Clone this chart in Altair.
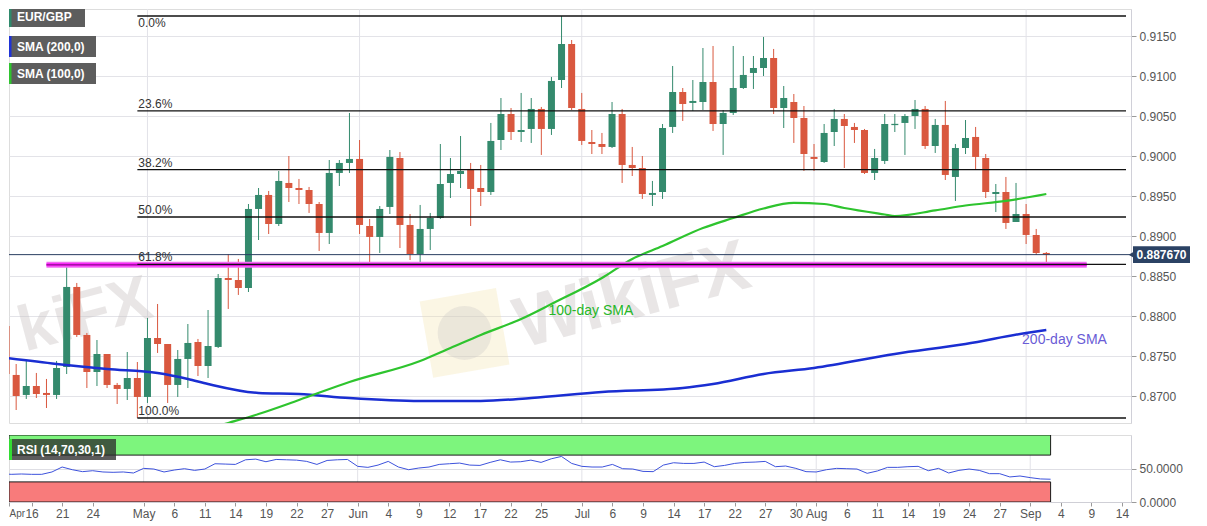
import altair as alt
import pandas as pd
import numpy as np

FONT = "Liberation Sans, Arial, sans-serif"

# ---------------- data (EUR/GBP daily, 2020-04-13 .. 2020-09-03, weekday bars) ----------------
bar_index = list(range(104))
opens = [0.87875, 0.87263, 0.87013, 0.87125, 0.87038, 0.87013, 0.87363, 0.88363, 0.87763, 0.873,
         0.87525, 0.87138, 0.87088, 0.87225, 0.86988, 0.87725, 0.8765, 0.87138, 0.87463, 0.87675,
         0.87375, 0.87613, 0.88475, 0.8845, 0.8835, 0.89338, 0.89513, 0.8915, 0.89663, 0.896,
         0.89575, 0.894, 0.89038, 0.89788, 0.89913, 0.89963, 0.89125, 0.88988, 0.89363, 0.89975,
         0.89138, 0.88775, 0.89088, 0.89225, 0.89663, 0.89775, 0.89838, 0.896, 0.8955, 0.902,
         0.90525, 0.903, 0.90338, 0.90588, 0.90338, 0.9095, 0.914, 0.90588, 0.90175, 0.9015,
         0.90113, 0.90525, 0.89888, 0.8985, 0.89513, 0.8955, 0.90363, 0.908, 0.90663, 0.90675,
         0.90925, 0.904, 0.90538, 0.9085, 0.91038, 0.911, 0.91225, 0.906, 0.90675, 0.90475,
         0.89988, 0.89925, 0.903, 0.90463, 0.90363, 0.90325, 0.89788, 0.89938, 0.90388, 0.90413,
         0.905, 0.90588, 0.90125, 0.90388, 0.89738, 0.901, 0.90238, 0.89975, 0.89525, 0.8955,
         0.89175, 0.89275, 0.89013, 0.88788]
closes = [0.87275, 0.87, 0.87125, 0.87025, 0.87013, 0.8735, 0.88363, 0.87763, 0.873, 0.87525,
          0.87138, 0.87088, 0.87225, 0.86988, 0.87725, 0.8765, 0.87138, 0.87463, 0.87663, 0.87375,
          0.87625, 0.88475, 0.8845, 0.8835, 0.89338, 0.89513, 0.8915, 0.89688, 0.896, 0.89575,
          0.894, 0.89038, 0.89788, 0.89913, 0.89963, 0.89138, 0.88988, 0.89338, 0.89988, 0.89138,
          0.88775, 0.89088, 0.89225, 0.8965, 0.89775, 0.89813, 0.89588, 0.8955, 0.90188, 0.90525,
          0.903, 0.90325, 0.90588, 0.90338, 0.90938, 0.914, 0.906, 0.90188, 0.9015, 0.90113,
          0.90525, 0.89888, 0.8985, 0.89525, 0.89538, 0.9035, 0.908, 0.9065, 0.90688, 0.90925,
          0.904, 0.90538, 0.9085, 0.91013, 0.911, 0.91225, 0.906, 0.90725, 0.90475, 0.90025,
          0.89963, 0.90288, 0.90463, 0.90375, 0.90325, 0.89788, 0.89975, 0.904, 0.904, 0.905,
          0.90588, 0.90125, 0.90388, 0.89763, 0.901, 0.90225, 0.89988, 0.8955, 0.8955, 0.89163,
          0.89275, 0.89013, 0.88788, 0.88767]
highs = [0.87913, 0.874, 0.8745, 0.87288, 0.87213, 0.87438, 0.88625, 0.88413, 0.87788, 0.877,
         0.87525, 0.87163, 0.8755, 0.87425, 0.87975, 0.8815, 0.8765, 0.87575, 0.879, 0.87713,
         0.88075, 0.88525, 0.88775, 0.88713, 0.894, 0.896, 0.89563, 0.89813, 0.9, 0.89713,
         0.89613, 0.89425, 0.8995, 0.8995, 0.90538, 0.902, 0.89213, 0.89375, 0.90075, 0.9005,
         0.89275, 0.89388, 0.89288, 0.9015, 0.89975, 0.9025, 0.89913, 0.89888, 0.90413, 0.90725,
         0.906, 0.90788, 0.90725, 0.90613, 0.90988, 0.9175, 0.9145, 0.90788, 0.90325, 0.90288,
         0.90675, 0.90588, 0.90113, 0.9, 0.89688, 0.904, 0.91125, 0.9085, 0.9095, 0.9135,
         0.91375, 0.90575, 0.91375, 0.9125, 0.9125, 0.91488, 0.91338, 0.90875, 0.90775, 0.90625,
         0.9015, 0.904, 0.90588, 0.90525, 0.90413, 0.90338, 0.90088, 0.90525, 0.90525, 0.90525,
         0.907, 0.90625, 0.90463, 0.90688, 0.9015, 0.9045, 0.90363, 0.90025, 0.8965, 0.89738,
         0.89663, 0.894, 0.89088, 0.888]
lows = [0.87238, 0.86825, 0.86963, 0.86975, 0.8685, 0.86963, 0.87275, 0.87738, 0.871, 0.87125,
        0.871, 0.869, 0.8695, 0.86725, 0.86913, 0.87538, 0.86913, 0.86988, 0.871, 0.8725,
        0.87225, 0.876, 0.88088, 0.88263, 0.883, 0.8895, 0.89025, 0.89125, 0.89425, 0.894,
        0.89288, 0.88813, 0.889, 0.89625, 0.89788, 0.89025, 0.88663, 0.88788, 0.89275, 0.8885,
        0.887, 0.88663, 0.88825, 0.89213, 0.89475, 0.896, 0.89125, 0.89375, 0.89513, 0.90075,
        0.902, 0.90175, 0.90163, 0.90013, 0.90263, 0.9085, 0.90575, 0.90138, 0.90025, 0.90025,
        0.901, 0.89663, 0.8975, 0.89463, 0.89375, 0.89463, 0.90288, 0.90438, 0.90563, 0.90575,
        0.90313, 0.90013, 0.90513, 0.90838, 0.90838, 0.91, 0.90525, 0.9035, 0.90163, 0.89813,
        0.89813, 0.89913, 0.90125, 0.8985, 0.90163, 0.89775, 0.897, 0.899, 0.903, 0.90013,
        0.90338, 0.90088, 0.90038, 0.897, 0.89438, 0.90025, 0.89825, 0.89475, 0.893, 0.89088,
        0.89175, 0.889, 0.88763, 0.88675]
rsi_values = [42.3, 41.3, 41.8, 41.3, 41.3, 44.8, 52.2, 48.2, 45.3, 46.7,
              44.8, 44.3, 44.8, 43.3, 50.2, 49.2, 44.8, 47.7, 49.7, 47.2,
              49.2, 57.1, 56.6, 56.1, 63.0, 64.0, 60.1, 63.5, 63.0, 62.5,
              60.6, 56.1, 62.0, 63.0, 63.5, 53.2, 51.7, 55.1, 60.6, 52.2,
              48.2, 50.7, 52.2, 56.1, 57.1, 58.1, 55.1, 54.6, 59.1, 63.0,
              59.6, 60.1, 62.5, 59.1, 64.5, 68.0, 57.6, 53.2, 52.2, 52.2,
              56.1, 49.7, 49.2, 45.7, 45.3, 55.1, 58.6, 57.6, 57.6, 59.6,
              52.7, 54.6, 57.6, 59.1, 59.6, 60.6, 52.7, 53.7, 50.2, 45.3,
              44.8, 48.2, 50.2, 49.7, 49.2, 42.8, 46.3, 51.7, 51.7, 52.7,
              53.2, 46.7, 50.2, 43.3, 47.2, 49.2, 47.2, 42.3, 42.3, 37.4,
              38.8, 36.4, 34.4, 34.0]

sma200_index = [0, 5, 10, 15, 18, 20, 25, 29, 34, 41, 47, 52, 59, 67, 70, 75, 80, 88, 95, 101, 103]
sma200_values = [0.87475, 0.874, 0.87338, 0.87288, 0.87213, 0.8715, 0.87038, 0.87025, 0.86975, 0.86938,
                 0.86938, 0.86975, 0.8705, 0.871, 0.8715, 0.87275, 0.8735, 0.87525, 0.8765, 0.87788, 0.87825]
sma100_index = [20, 22, 25, 29, 34, 41, 44, 47, 51, 54, 59, 62, 65, 69, 72, 75, 78, 81, 83, 87, 88, 92, 95, 99, 103]
sma100_values = [0.8659, 0.86663, 0.86775, 0.8695, 0.87175, 0.87438, 0.876, 0.87763, 0.87963, 0.8815,
                 0.88475, 0.88713, 0.88875, 0.891, 0.89225, 0.89344, 0.89413, 0.894, 0.8935, 0.89269,
                 0.8925, 0.8932, 0.89381, 0.89438, 0.89525]

swing_high = 0.9175
swing_low = 0.86725
fib_start_index = 13
fib_pcts = [0.0, 23.6, 38.2, 50.0, 61.8, 100.0]
support_level = 0.8864
support_start, support_end = 4, 107
current_price = 0.88767
current_label = "0.887670"

month_index = [14, 35, 57, 80, 101]
tick_values = [0.785, 3, 6, 9, 14, 17, 20, 23, 26, 29, 32, 35, 38, 41, 44, 47, 50, 53, 57, 60, 63, 66,
               69, 72, 75, 78, 80, 83, 86, 89, 92, 95, 98, 101, 104, 107, 110]
tick_labels = ["Apr", "16", "21", "24", "May", "6", "11", "14", "19", "22", "27", "Jun", "4", "9", "12",
               "17", "22", "25", "Jul", "6", "9", "14", "17", "22", "27", "30", "Aug", "6", "11", "14",
               "19", "24", "27", "Sep", "4", "9", "14"]
price_ticks = [0.870, 0.875, 0.880, 0.885, 0.890, 0.895, 0.900, 0.905, 0.910, 0.915]

legend_names = ["EUR/GBP", "SMA (200,0)", "SMA (100,0)"]
legend_accents = ["#2f8a6c", "#1f33d6", "#2fc42f"]

# watermark texts (bar index, price, text, alignment, size)
wm_text_i = [62.0, 14.3]
wm_text_v = [0.8825, 0.8822]
wm_text_t = ["WikiFX", "kiFX"]
wm_text_a = ["center", "right"]
wm_text_s = [72, 64]

GREEN = "#348a6d"
RED = "#d9583f"

# ---------------- frames ----------------
XMIN, XMAX = 0.785, 110.89
xs = alt.Scale(domain=[XMIN, XMAX], nice=False, zero=False)
ys = alt.Scale(domain=[0.866625, 0.918375], nice=False, zero=False)

candles = pd.DataFrame({"i": bar_index, "open": opens, "high": highs, "low": lows, "close": closes})
candles["dir"] = np.where(candles["close"] >= candles["open"], "up", "down")
top = candles[["open", "close"]].max(axis=1)
bot = candles[["open", "close"]].min(axis=1)
mid = (top + bot) / 2
small = (top - bot) < 0.00016
candles["btop"] = np.where(small, mid + 0.00008, top)
candles["bbot"] = np.where(small, mid - 0.00008, bot)

col = alt.Color("dir:N", scale=alt.Scale(domain=["up", "down"], range=[GREEN, RED]), legend=None)

main_yaxis = alt.Axis(orient="right", values=price_ticks, format=".4f", grid=True, gridColor="#e3e3e8",
                      tickSize=5, tickColor="#9a9a9a", domainColor="#d0d0d8", labelColor="#555",
                      labelFontSize=12, labelPadding=3, labelFont=FONT)


def X(field):
    return alt.X(field, scale=xs, axis=None, title=None)


def Y(field):
    return alt.Y(field, scale=ys, axis=main_yaxis, title=None)


vgrid = alt.Chart(pd.DataFrame({"i": month_index})).mark_rule(color="#e2e2e8", strokeWidth=1).encode(x=X("i:Q"))

wm_layers = []
for wi, wv, wt, wa, wsz in zip(wm_text_i, wm_text_v, wm_text_t, wm_text_a, wm_text_s):
    wm_layers.append(alt.Chart(pd.DataFrame({"i": [wi], "v": [wv], "t": [wt]})).mark_text(
        fontSize=wsz, fontWeight="bold", angle=345, color="#cbc6c6", opacity=0.42, align=wa,
        clip=True, font=FONT).encode(x=X("i:Q"), y=Y("v:Q"), text="t:N"))
wm_logo = alt.Chart(pd.DataFrame({"i": [45.4], "v": [0.87788]})).mark_point(
    shape="square", filled=True, size=6000, angle=350, color="#f3e2a4", opacity=0.3, clip=True).encode(
    x=X("i:Q"), y=Y("v:Q"))
wm_logo2 = alt.Chart(pd.DataFrame({"i": [45.4], "v": [0.87788]})).mark_point(
    shape="circle", filled=True, size=2900, color="#c8c2c2", opacity=0.3, clip=True).encode(
    x=X("i:Q"), y=Y("v:Q"))

wicks = alt.Chart(candles).mark_rule(strokeWidth=1, clip=True).encode(x=X("i:Q"), y=Y("low:Q"), y2="high:Q", color=col)
bodies = alt.Chart(candles).mark_bar(size=7, clip=True).encode(x=X("i:Q"), y=Y("bbot:Q"), y2="btop:Q", color=col)

sma200 = alt.Chart(pd.DataFrame({"i": sma200_index, "v": sma200_values})).mark_line(
    color="#1a2ed2", strokeWidth=2.5, clip=True, interpolate="monotone").encode(x=X("i:Q"), y=Y("v:Q"))
sma100 = alt.Chart(pd.DataFrame({"i": sma100_index, "v": sma100_values})).mark_line(
    color="#2ec42e", strokeWidth=2.2, clip=True, interpolate="monotone").encode(x=X("i:Q"), y=Y("v:Q"))

fib_df = pd.DataFrame({"pct": fib_pcts})
fib_df["level"] = swing_high - fib_df["pct"] / 100 * (swing_high - swing_low)
fib_df["label"] = fib_df["pct"].map(lambda p: f"{p:.1f}%")
fib_df["start"] = fib_start_index
fib_df["end"] = XMAX
fib_rules = alt.Chart(fib_df).mark_rule(color="#111", strokeWidth=1.3).encode(x=X("start:Q"), x2="end:Q", y=Y("level:Q"))
# labels sit just above their line; the top one (0.0%) has no room above and sits just below it
fib_text_above = alt.Chart(fib_df[fib_df["pct"] > 0]).mark_text(
    align="left", baseline="bottom", dx=1, dy=0, fontSize=12, color="#333", font=FONT).encode(
    x=X("start:Q"), y=Y("level:Q"), text="label:N")
fib_text_top = alt.Chart(fib_df[fib_df["pct"] == 0]).mark_text(
    align="left", baseline="top", dx=1, dy=2, fontSize=12, color="#333", font=FONT).encode(
    x=X("start:Q"), y=Y("level:Q"), text="label:N")

sup_df = pd.DataFrame({"start": [support_start], "end": [support_end], "level": [support_level]})
sup_outer = alt.Chart(sup_df).mark_rule(color="#f070f0", strokeWidth=6).encode(x=X("start:Q"), x2="end:Q", y=Y("level:Q"))
sup_inner = alt.Chart(sup_df).mark_rule(color="#ff10ff", strokeWidth=3).encode(x=X("start:Q"), x2="end:Q", y=Y("level:Q"))
sup_core = alt.Chart(sup_df).mark_rule(color="#7a1a7a", strokeWidth=1).encode(x=X("start:Q"), x2="end:Q", y=Y("level:Q"))

cur_df = pd.DataFrame({"price": [current_price], "label": [current_label]})
cur_line = alt.Chart(cur_df).mark_rule(color="#2a3e60", strokeWidth=1).encode(y=Y("price:Q"))
tag_box = alt.Chart(cur_df).transform_calculate(t="datum.price + 0.00106", b="datum.price - 0.00106").mark_rect(
    color="#2b4264").encode(x=alt.value(1124), x2=alt.value(1181), y=Y("b:Q"), y2="t:Q")
tag_arrow = alt.Chart(cur_df).mark_point(shape="triangle-left", filled=True, size=30, color="#2b4264", opacity=1).encode(
    x=alt.value(1122), y=Y("price:Q"))
tag_text = alt.Chart(cur_df).mark_text(color="white", fontWeight="bold", fontSize=12, font=FONT).encode(
    x=alt.value(1152.5), y=Y("price:Q"), text="label:N")

sma_lab_df = pd.DataFrame({"i": [57.9, 104.8], "v": [0.88063, 0.877], "t": ["100-day SMA", "200-day SMA"],
                           "c": ["#26b626", "#6a5cd6"]})
sma_labels = alt.Chart(sma_lab_df).mark_text(fontSize=14, font=FONT).encode(
    x=X("i:Q"), y=Y("v:Q"), text="t:N", color=alt.Color("c:N", scale=None))

legend_layers = []
one = pd.DataFrame({"k": [0]})
for n, (name, acc) in enumerate(zip(legend_names, legend_accents)):
    y0 = 27 * n
    y1 = y0 + (18 if n == 0 else 21)
    yc = (y1 - 10) if n == 0 else (y0 + 11)
    w = 76 if n == 0 else 87
    legend_layers.append(alt.Chart(one).mark_rect(color="#5d5d5d").encode(
        x=alt.value(0), x2=alt.value(w), y=alt.value(y0), y2=alt.value(y1)))
    legend_layers.append(alt.Chart(one).mark_rect(color=acc).encode(
        x=alt.value(0), x2=alt.value(2.5), y=alt.value(y0), y2=alt.value(y1)))
    legend_layers.append(alt.Chart(one).mark_text(text=name, color="white", fontWeight="bold", fontSize=12,
                                                   align="left", baseline="middle", font=FONT).encode(
        x=alt.value(8), y=alt.value(yc)))

main = alt.layer(
    vgrid, wm_logo, wm_logo2, *wm_layers, wicks, bodies, sma200, sma100, cur_line, sup_outer, sup_inner,
    sup_core, fib_rules, fib_text_above, fib_text_top, sma_labels, tag_arrow, tag_box, tag_text, *legend_layers
).properties(width=1122, height=414)

# ---------------- RSI panel ----------------
val_js = "[" + ",".join(str(v) for v in tick_values) + "]"
lab_js = "[" + ",".join("'" + l + "'" for l in tick_labels) + "]"
rsi_xaxis = alt.Axis(values=tick_values, labelExpr=f"{lab_js}[indexof({val_js}, datum.value)]", grid=False,
                     tickSize=4, tickColor="#9a9a9a", domainColor="#cfcfd6", labelColor="#555",
                     labelFontSize={"condition": {"test": "datum.value < 1", "value": 10}, "value": 12},
                     labelOverlap=False, labelFlush=True, labelPadding=2, labelFont=FONT)
ry = alt.Scale(domain=[0, 100], nice=False, zero=False)
rsi_yaxis = alt.Axis(orient="right", values=[0, 50], format=".4f", grid=True, gridColor="#dedee4", tickSize=5,
                     tickColor="#9a9a9a", domainColor="#d0d0d8", labelColor="#555", labelFontSize=12, labelPadding=3,
                     labelFont=FONT)


def RX(field):
    return alt.X(field, scale=xs, axis=rsi_xaxis, title=None)


def RY(field):
    return alt.Y(field, scale=ry, axis=rsi_yaxis, title=None)


rsi_vgrid = alt.Chart(pd.DataFrame({"i": month_index})).mark_rule(color="#e2e2e8").encode(x=RX("i:Q"))
bands_df = pd.DataFrame({"lo": [70, 0], "hi": [100, 30], "start": [XMIN, XMIN], "end": [103, 103],
                         "fill": ["#7df57d", "#f87b7b"]})
bands = alt.Chart(bands_df).mark_rect(stroke="#1a1a1a", strokeWidth=1, clip=True).encode(
    x=RX("start:Q"), x2="end:Q", y=RY("lo:Q"), y2="hi:Q", color=alt.Color("fill:N", scale=None))
rsi_line = alt.Chart(pd.DataFrame({"i": bar_index, "rsi": rsi_values})).mark_line(
    color="#3d52dc", strokeWidth=1, clip=True).encode(x=RX("i:Q"), y=RY("rsi:Q"))
rsi_box = alt.Chart(one).mark_rect(color="#2e2e2e", opacity=0.78).encode(
    x=alt.value(0), x2=alt.value(107), y=alt.value(4), y2=alt.value(25))
rsi_strip = alt.Chart(one).mark_rect(color="#33dd33").encode(
    x=alt.value(0), x2=alt.value(3), y=alt.value(4), y2=alt.value(25))
rsi_text = alt.Chart(one).mark_text(text="RSI (14,70,30,1)", color="white", fontWeight="bold", fontSize=12,
                                    align="left", baseline="middle", font=FONT).encode(x=alt.value(8), y=alt.value(15))

rsi = alt.layer(rsi_vgrid, bands, rsi_line, rsi_box, rsi_strip, rsi_text).properties(width=1122, height=67)

chart = alt.vconcat(main, rsi, spacing=10, padding={"left": 0, "top": 0, "right": 5, "bottom": 5}).configure_view(
    fill="#f6f6f9", stroke="#d6d6de").configure(font=FONT)

chart.save("out.html", embed_options={"renderer": "svg", "actions": False})
